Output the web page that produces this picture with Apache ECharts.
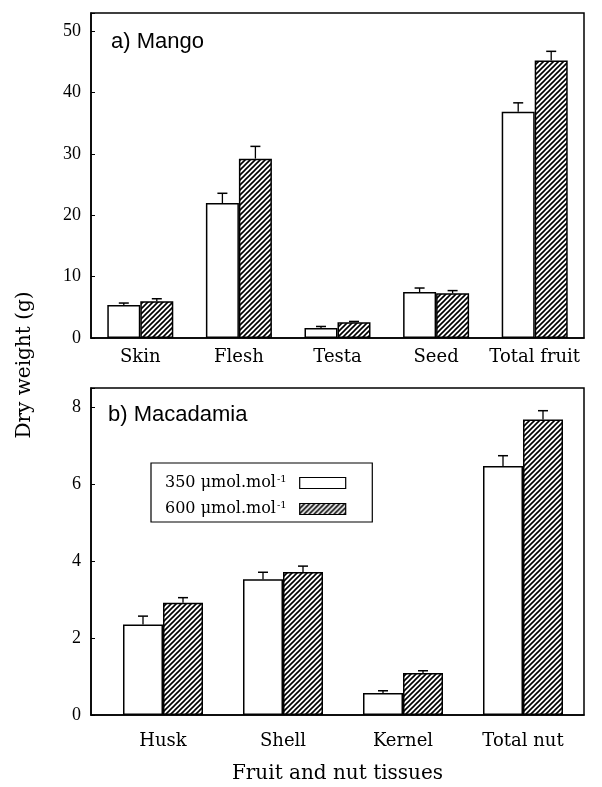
<!DOCTYPE html>
<html><head><meta charset="utf-8">
<script src="https://cdn.jsdelivr.net/npm/echarts@6/dist/echarts.min.js"></script>
<style>html,body{margin:0;padding:0;background:#fff}#c{width:602px;height:787px}</style>
</head><body><div id="c"></div>
<script>
// ---- data ----
const categoriesMango = ['Skin', 'Flesh', 'Testa', 'Seed', 'Total fruit'];
const mango350 = [5.4, 22.0, 1.63, 7.5, 36.9];
const mango350Err = [0.3, 1.6, 0.25, 0.65, 1.45];
const mango600 = [6.0, 29.25, 2.55, 7.28, 45.25];
const mango600Err = [0.4, 2.0, 0.15, 0.45, 1.5];

const categoriesMacadamia = ['Husk', 'Shell', 'Kernel', 'Total nut'];
const mac350 = [2.35, 3.53, 0.57, 6.47];
const mac350Err = [0.22, 0.18, 0.06, 0.27];
const mac600 = [2.92, 3.72, 1.09, 7.68];
const mac600Err = [0.13, 0.15, 0.06, 0.23];

const seriesNames = ['350 \u03bcmol.mol', '600 \u03bcmol.mol'];
const superscript = '-1';
const yTicksMango = [0, 10, 20, 30, 40, 50];
const yTicksMacadamia = [0, 2, 4, 6, 8];
const panelLabels = ['a) Mango', 'b) Macadamia'];
const xTitle = 'Fruit and nut tissues';
const yTitle = 'Dry weight (g)';

// ---- styling ----
function hatch() {
  const s = 5;
  const c = document.createElement('canvas');
  c.width = s; c.height = s;
  const g = c.getContext('2d');
  g.fillStyle = '#fff'; g.fillRect(0, 0, s, s);
  g.strokeStyle = '#000'; g.lineWidth = 1.6;
  g.beginPath();
  g.moveTo(-1, s + 1); g.lineTo(s + 1, -1);
  g.moveTo(-1, 1); g.lineTo(1, -1);
  g.moveTo(s - 1, s + 1); g.lineTo(s + 1, s - 1);
  g.stroke();
  return c;
}
const hatchFill = { image: hatch(), repeat: 'repeat' };
const serif = 'DejaVu Serif';
const tickFont = 'Liberation Serif';

function errRender(offset) {
  return function (params, api) {
    const c = api.value(0), v = api.value(1), e = api.value(2);
    const p0 = api.coord([c, v]);
    const p1 = api.coord([c, v + e]);
    const x = p0[0] + offset;
    return {
      type: 'group',
      children: [
        { type: 'line', shape: { x1: x, y1: p0[1], x2: x, y2: p1[1] }, style: { stroke: '#000', lineWidth: 1.3 } },
        { type: 'line', shape: { x1: x - 5, y1: p1[1], x2: x + 5, y2: p1[1] }, style: { stroke: '#000', lineWidth: 1.5 } }
      ]
    };
  };
}
function errData(vals, errs) { return vals.map((v, i) => [i, v, errs[i]]); }

function yAxis(gridIndex, max, interval, ticks, show) {
  return {
    type: 'value', gridIndex, min: 0, max, interval, show,
    axisLine: { show: true, lineStyle: { color: '#000', width: 1.5 } },
    axisTick: { show: true, inside: true, length: 4, lineStyle: { color: '#000' } },
    splitLine: { show: false },
    axisLabel: {
      color: '#000', fontFamily: tickFont, fontSize: 18, margin: 10,
      formatter: v => (ticks.indexOf(v) >= 0 ? String(v) : '')
    }
  };
}

const chart = echarts.init(document.getElementById('c'), null, { renderer: 'canvas' });
const TW = 33, BW = 40;
chart.setOption({
  animation: false,
  backgroundColor: '#fff',
  grid: [
    { left: 91, top: 13, width: 493, height: 325, show: true, borderColor: '#000', borderWidth: 1.5, outerBoundsMode: 'none', containLabel: false },
    { left: 91, top: 388, width: 493, height: 327, show: true, borderColor: '#000', borderWidth: 1.5, outerBoundsMode: 'none', containLabel: false },
    { left: 103, top: 388, width: 480, height: 327, outerBoundsMode: 'none', containLabel: false }
  ],
  xAxis: [
    { type: 'category', gridIndex: 0, data: categoriesMango,
      axisLine: { lineStyle: { color: '#000', width: 1.5 } }, axisTick: { show: false },
      axisLabel: { color: '#000', fontFamily: serif, fontSize: 18, margin: 10, interval: 0 } },
    { type: 'category', gridIndex: 1, data: categoriesMacadamia,
      axisLine: { lineStyle: { color: '#000', width: 1.5 } }, axisTick: { show: false },
      axisLabel: { show: false },
      name: xTitle, nameLocation: 'middle', nameGap: 49,
      nameTextStyle: { color: '#000', fontFamily: serif, fontSize: 20 } },
    { type: 'category', gridIndex: 2, data: categoriesMacadamia,
      axisLine: { show: false }, axisTick: { show: false },
      axisLabel: { color: '#000', fontFamily: serif, fontSize: 18, margin: 17, interval: 0 } }
  ],
  yAxis: [
    yAxis(0, 53, 10, yTicksMango, true),
    yAxis(1, 8.5, 2, yTicksMacadamia, true),
    yAxis(2, 8.5, 2, yTicksMacadamia, false)
  ],
  legend: {
    data: seriesNames,
    orient: 'vertical', align: 'right',
    left: 151, top: 463,
    padding: [11, 26, 4, 14],
    itemGap: 8, itemWidth: 46, itemHeight: 11,
    icon: 'rect',
    borderColor: '#000', borderWidth: 1.2,
    itemStyle: { borderColor: '#000', borderWidth: 1.2 },
    formatter: n => n + '{sup|' + superscript + '}',
    textStyle: {
      color: '#000', fontFamily: serif, fontSize: 16, lineHeight: 18,
      rich: { sup: { fontSize: 10, lineHeight: 10, verticalAlign: 'top', padding: [0, 8, 0, 1], fontFamily: serif, color: '#000' } }
    }
  },
  graphic: [
    { type: 'text', left: 111, top: 31, style: { text: panelLabels[0], font: '22px "Liberation Sans"', fill: '#000' } },
    { type: 'text', left: 108, top: 404, style: { text: panelLabels[1], font: '22px "Liberation Sans"', fill: '#000' } },
    { type: 'text', x: 25, y: 365, rotation: Math.PI / 2,
      style: { text: yTitle, font: '20px "DejaVu Serif"', fill: '#000', align: 'center', verticalAlign: 'middle' } }
  ],
  series: [
    { name: seriesNames[0], type: 'bar', xAxisIndex: 0, yAxisIndex: 0, data: mango350, barWidth: TW, barGap: '0%',
      itemStyle: { color: '#fff', borderColor: '#000', borderWidth: 1.5 } },
    { name: seriesNames[1], type: 'bar', xAxisIndex: 0, yAxisIndex: 0, data: mango600, barWidth: TW, barGap: '0%',
      itemStyle: { color: hatchFill, borderColor: '#000', borderWidth: 1.5 } },
    { type: 'custom', xAxisIndex: 0, yAxisIndex: 0, data: errData(mango350, mango350Err), renderItem: errRender(-TW / 2), z: 5 },
    { type: 'custom', xAxisIndex: 0, yAxisIndex: 0, data: errData(mango600, mango600Err), renderItem: errRender(TW / 2), z: 5 },
    { name: seriesNames[0], type: 'bar', xAxisIndex: 2, yAxisIndex: 2, data: mac350, barWidth: BW, barGap: '0%',
      itemStyle: { color: '#fff', borderColor: '#000', borderWidth: 1.5 } },
    { name: seriesNames[1], type: 'bar', xAxisIndex: 2, yAxisIndex: 2, data: mac600, barWidth: BW, barGap: '0%',
      itemStyle: { color: hatchFill, borderColor: '#000', borderWidth: 1.5 } },
    { type: 'custom', xAxisIndex: 2, yAxisIndex: 2, data: errData(mac350, mac350Err), renderItem: errRender(-BW / 2), z: 5 },
    { type: 'custom', xAxisIndex: 2, yAxisIndex: 2, data: errData(mac600, mac600Err), renderItem: errRender(BW / 2), z: 5 }
  ]
});
</script>
</body></html>
